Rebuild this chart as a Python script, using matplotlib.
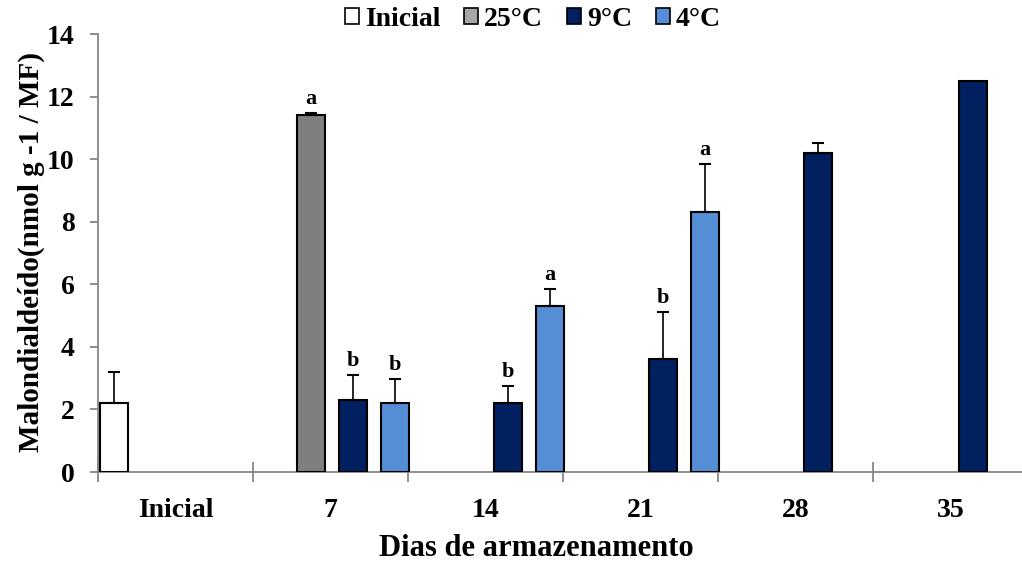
import matplotlib
matplotlib.use("Agg")
import matplotlib.pyplot as plt
from matplotlib.patches import Patch
import numpy as np

plt.rcParams['font.family'] = ['Liberation Serif', 'DejaVu Serif']
plt.rcParams['font.weight'] = 'bold'

categories = ["Inicial", "7", "14", "21", "28", "35"]
series = ["Inicial", "25°C", "9°C", "4°C"]
colors = ["#ffffff", "#7f7f7f", "#002060", "#558ed5"]
legend_colors = ["#ffffff", "#a6a6a6", "#002060", "#558ed5"]

# values per series per category (None = no bar)
values = {
    "Inicial": [2.2, None, None, None, None, None],
    "25°C":    [None, 11.4, None, None, None, None],
    "9°C":     [None, 2.3, 2.2, 3.6, 10.2, 12.5],
    "4°C":     [None, 2.2, 5.3, 8.3, None, None],
}
errors = {
    "Inicial": [1.0, None, None, None, None, None],
    "25°C":    [None, 0.07, None, None, None, None],
    "9°C":     [None, 0.8, 0.55, 1.52, 0.33, 0.0],
    "4°C":     [None, 0.77, 0.54, 1.54, None, None],
}
letters = {
    "Inicial": [None] * 6,
    "25°C":    [None, "a", None, None, None, None],
    "9°C":     [None, "b", "b", "b", None, None],
    "4°C":     [None, "b", "a", "a", None, None],
}

W, H = 1022, 561
fig = plt.figure(figsize=(W / 100, H / 100), dpi=100)
ax = fig.add_axes([98 / W, 1 - 472 / H, 930 / W, 438 / H])

bar_w = 28 / 155
pitch = 42 / 155
off0 = 2 / 155

for s, name in enumerate(series):
    for i, v in enumerate(values[name]):
        if v is None:
            continue
        x = i + off0 + s * pitch
        xc = x + bar_w / 2
        ax.bar(x, v, width=bar_w, align='edge', color=colors[s],
               edgecolor='black', linewidth=1.5, zorder=3)
        e = errors[name][i]
        if e:
            ax.errorbar(xc, v, yerr=[[0], [e]], fmt='none', ecolor='black',
                        elinewidth=1.2, capsize=4.5, capthick=1.5, zorder=4)
        lab = letters[name][i]
        if lab:
            ax.annotate(lab, (xc, v + (e or 0)), xytext=(0, 3),
                        textcoords='offset points', ha='center', va='bottom',
                        fontsize=16, fontweight='bold')

ax.set_xlim(0, 6)
ax.set_ylim(0, 14)
ax.set_yticks(np.arange(0, 15, 2))
ax.set_xticks(np.arange(0, 7))
ax.set_xticklabels([])
ax.set_xticks(np.arange(6) + 0.5, minor=True)
ax.set_xticklabels(categories, minor=True)

gray = '#868686'
for sp in ['top', 'right']:
    ax.spines[sp].set_visible(False)
for sp in ['left', 'bottom']:
    ax.spines[sp].set_color(gray)
    ax.spines[sp].set_linewidth(1.3)
ax.tick_params(axis='y', direction='out', length=6, width=1.3, color=gray,
               labelsize=20, pad=11)
ax.tick_params(axis='x', which='major', direction='inout', length=14,
               width=1.3, color=gray)
ax.tick_params(axis='x', which='minor', length=0, labelsize=20, pad=19)
for t in ax.get_yticklabels() + ax.get_xticklabels(minor=True):
    t.set_fontweight('bold')

ax.set_ylabel("Malondialdeído(nmol g -1 / MF)", fontsize=21,
              fontweight='bold')
ax.yaxis.set_label_coords((31 - 98) / 930, (472 - 252) / 438)
ax.yaxis.label.set_va('center')
ax.set_xlabel("Dias de armazenamento", fontsize=22, fontweight='bold')
ax.xaxis.set_label_coords((536 - 98) / 930, -(548 - 472) / 438)
ax.xaxis.label.set_va('center')

handles = [Patch(facecolor=c, edgecolor='black', linewidth=1.2)
           for c in legend_colors]
fig.legend(handles, series, loc='center', bbox_to_anchor=(533 / W, 1 - 19 / H),
           ncol=4, frameon=False, handlelength=0.5,
           handleheight=0.5, handletextpad=0.22, columnspacing=0.86,
           borderpad=0, prop={'weight': 'bold', 'size': 20})

fig.savefig("out.png", dpi=100)
